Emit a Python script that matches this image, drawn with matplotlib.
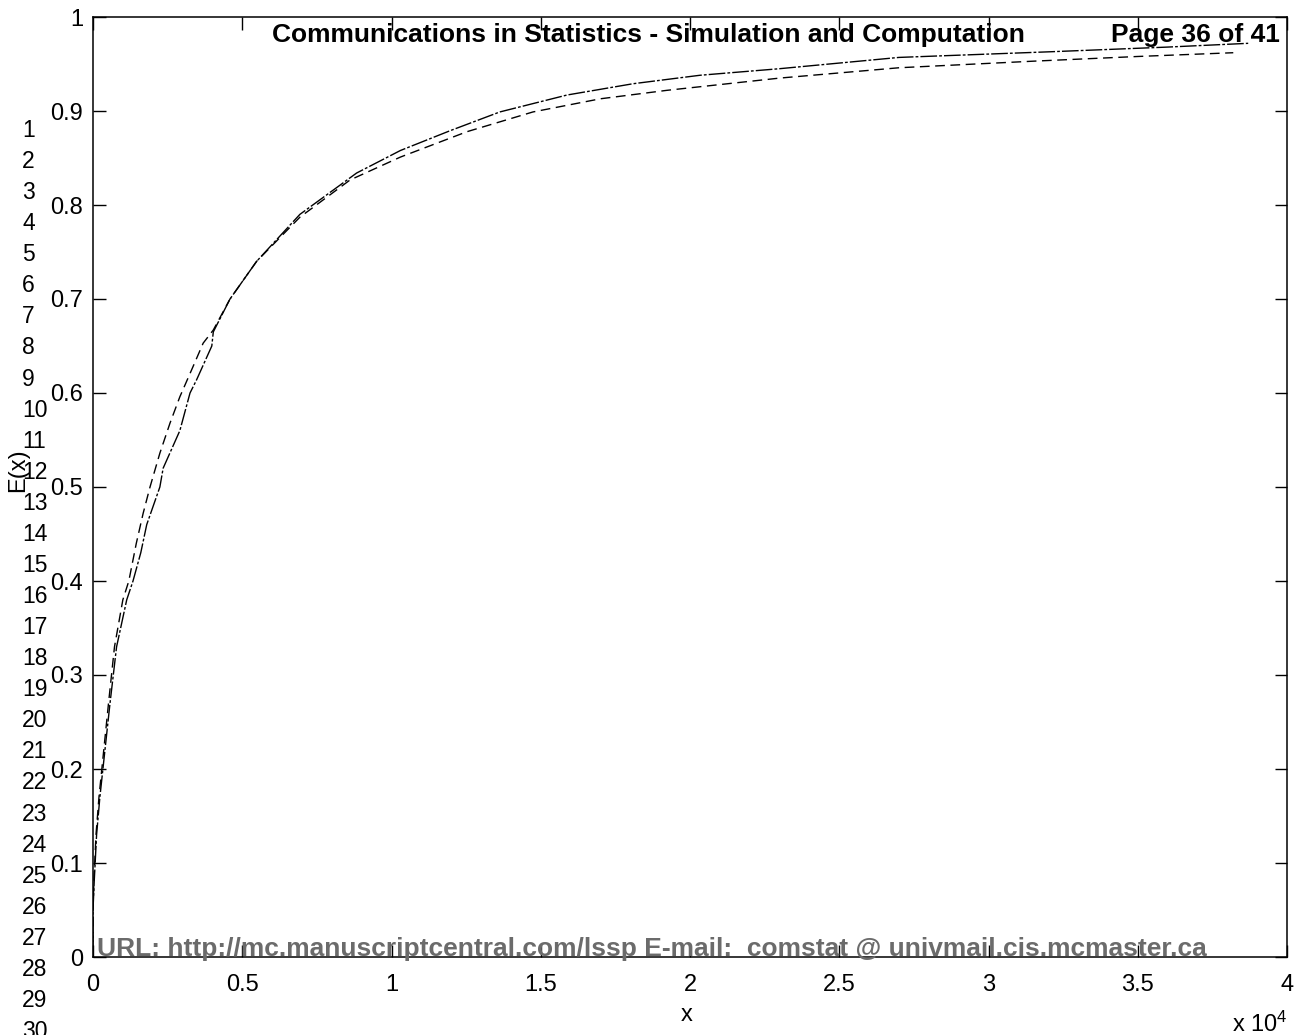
import matplotlib
matplotlib.use("Agg")
import matplotlib.pyplot as plt
from matplotlib.ticker import FuncFormatter, MultipleLocator

# (x in raw units, E(x) values)
solid_x = [0, 0, 40, 120, 230, 400, 570, 790, 1130, 1340, 1600, 1800, 2240, 2350,
           2910, 3250, 3470, 3980, 4030, 4590, 5480, 6930, 8270, 8830, 10300,
           11960, 13630, 15880, 18090, 20330, 23000, 27000, 32060, 36000, 38700]
solid_y = [0, 0.05, 0.08, 0.13, 0.17, 0.22, 0.27, 0.33, 0.38, 0.40, 0.43, 0.46,
           0.50, 0.52, 0.56, 0.60, 0.614, 0.65, 0.665, 0.70, 0.74, 0.79, 0.821,
           0.834, 0.858, 0.879, 0.899, 0.917, 0.929, 0.938, 0.945, 0.957, 0.963,
           0.968, 0.972]

dashed_x = [0, 0, 30, 100, 200, 360, 520, 720, 1000, 1200, 1450, 1680, 1910, 2240,
            2580, 2910, 3350, 3690, 4030, 4590, 5480, 6930, 8610, 10300, 12530,
            14740, 17000, 19230, 23000, 27000, 31500, 35000, 38200]
dashed_y = [0, 0.05, 0.08, 0.13, 0.17, 0.22, 0.27, 0.33, 0.38, 0.40, 0.44, 0.472,
            0.50, 0.536, 0.568, 0.596, 0.628, 0.653, 0.667, 0.70, 0.74, 0.787,
            0.8266, 0.851, 0.878, 0.899, 0.913, 0.922, 0.935, 0.946, 0.953,
            0.958, 0.962]

line_numbers = list(range(1, 31))

W, H = 1295, 1035
fig = plt.figure(figsize=(W / 100, H / 100), dpi=100)
plt.rcParams['font.family'] = ['Liberation Sans', 'DejaVu Sans']
plt.rcParams['mathtext.default'] = 'regular'

def fx(px):
    return px / W

def fy(py):
    return 1 - py / H

ax = fig.add_axes([fx(93), fy(957), fx(1287) - fx(93), fy(17) - fy(957)])

ax.plot(solid_x, solid_y, color='black', lw=1.0, dashes=(12, 1.5, 2, 1.5))
ax.plot(dashed_x, dashed_y, color='black', lw=1.0, dashes=(7, 4))

ax.set_xlim(0, 40000)
ax.set_ylim(0, 1)
ax.xaxis.set_major_locator(MultipleLocator(5000))
ax.yaxis.set_major_locator(MultipleLocator(0.1))
ax.xaxis.set_major_formatter(FuncFormatter(lambda v, p: '%g' % (v / 1e4)))
ax.yaxis.set_major_formatter(FuncFormatter(lambda v, p: '%g' % round(v, 1)))
ax.tick_params(direction='in', length=9, width=1, top=True, right=True,
               labelsize=17, colors='black')
ax.tick_params(axis='y', pad=7)
ax.tick_params(axis='x', pad=12)
for s in ax.spines.values():
    s.set_linewidth(1.1)

# axis labels, placed like the MATLAB export
fig.text(fx(18), fy(470), 'E(x)', rotation=90, ha='center', va='center',
         fontsize=17)
fig.text(fx(687), fy(1015), 'x', ha='center', va='center', fontsize=17)
fig.text(fx(1288), fy(1032), r'x 10$^{4}$', ha='right', va='baseline',
         fontsize=17)

# journal header / footer overlays
fig.text(fx(272), fy(42), 'Communications in Statistics - Simulation and Computation',
         fontsize=19, fontweight='bold', ha='left', va='baseline')
fig.text(fx(1280), fy(42), 'Page 36 of 41', fontsize=19, fontweight='bold',
         ha='right', va='baseline')
fig.text(fx(97), fy(956),
         'URL: http://mc.manuscriptcentral.com/lssp E-mail:  comstat @ univmail.cis.mcmaster.ca',
         fontsize=19, fontweight='bold', color='#6b6b6b', ha='left', va='baseline')

# manuscript line numbers down the left margin
for n in line_numbers:
    fig.text(fx(22), fy(137 + 31.07 * (n - 1)), str(n), fontsize=16.5,
             ha='left', va='baseline')

fig.savefig('out.png', dpi=100)
